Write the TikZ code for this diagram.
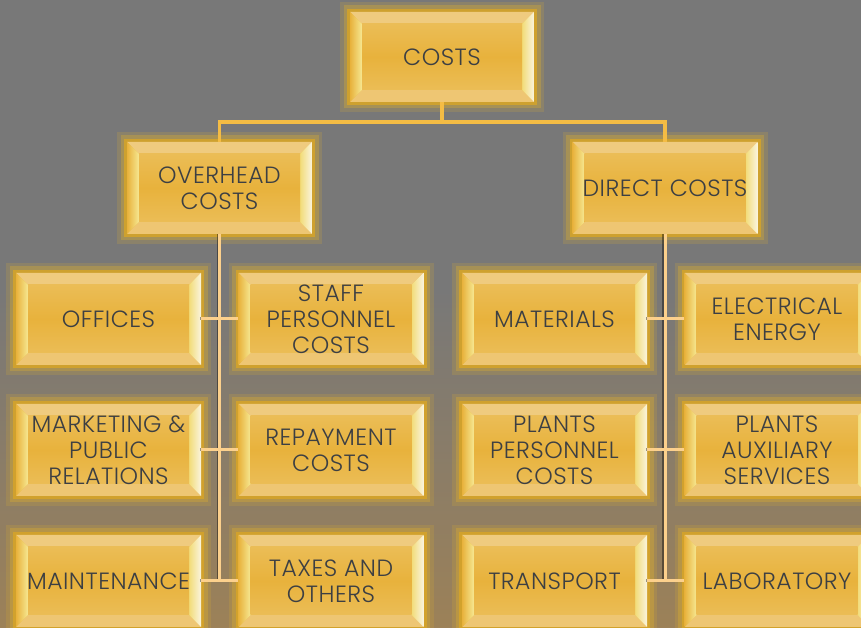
\documentclass[tikz,border=0pt]{standalone}
\usepackage{fontspec}
\newfontfamily\boxfont{Poppins Light}[LetterSpace=2]
\usetikzlibrary{calc}
\definecolor{bggray}{HTML}{787878}
\definecolor{bgmid}{HTML}{A08254}
\definecolor{bgbot}{HTML}{C58A36}
\definecolor{glowc}{HTML}{E2B22C}
\definecolor{glowin}{HTML}{D9A526}
\definecolor{facemid}{HTML}{E8B23C}
\definecolor{faceedge}{HTML}{EBBD56}
\definecolor{bandtop}{HTML}{EFCB7F}
\definecolor{bandbot}{HTML}{EEC673}
\definecolor{bevleft}{HTML}{F6E892}
\definecolor{bevright}{HTML}{FAF4DE}
\definecolor{bevrightin}{HTML}{F2DC78}
\definecolor{textgray}{HTML}{3C3F43}
\definecolor{topline}{HTML}{F4BC44}
\definecolor{subline}{HTML}{FCD08C}
\pgfdeclareverticalshading{bgshade}{100bp}{color(0bp)=(bgbot); color(22bp)=(bgmid); color(52bp)=(bggray); color(100bp)=(bggray)}
\tikzset{
  box/.style={rectangle, minimum width=185pt, minimum height=92pt, inner sep=0pt,
    align=center, text=textgray, font={\boxfont\fontsize{23.5pt}{26pt}\selectfont},
    preaction={draw=glowc, line width=20pt, opacity=0.18, rounded corners=8pt},
    preaction={draw=glowc, line width=13pt, opacity=0.32, rounded corners=5pt},
    preaction={draw=glowin, line width=6pt, opacity=0.8},
    path picture={
      \coordinate (q1) at (path picture bounding box.south west);
      \coordinate (q3) at (path picture bounding box.north east);
      \coordinate (q2) at (q1 -| q3);
      \coordinate (q4) at (q1 |- q3);
      \fill[facemid] (q1) rectangle (q3);
      \fill[bandtop] (q4) -- (q3) -- ($(q3)+(-12pt,-12pt)$) -- ($(q4)+(12pt,-12pt)$) -- cycle;
      \fill[bandbot] (q1) -- (q2) -- ($(q2)+(-12pt,12pt)$) -- ($(q1)+(12pt,12pt)$) -- cycle;
      \shade[left color=facemid, right color=bevleft] (q1) -- ($(q1)+(12pt,12pt)$) -- ($(q4)+(12pt,-12pt)$) -- (q4) -- cycle;
      \shade[left color=bevrightin, right color=bevright] (q2) -- ($(q2)+(-12pt,12pt)$) -- ($(q3)+(-12pt,-12pt)$) -- (q3) -- cycle;
      \shade[top color=faceedge, bottom color=faceedge, middle color=facemid] ($(q1)+(12pt,12pt)$) rectangle ($(q3)+(-12pt,-12pt)$);
    }},
  topconn/.style={draw=topline, line width=3.2pt},
  subconn/.style={draw=subline, line width=3pt,
    preaction={draw=black, opacity=0.4, line width=3pt, transform canvas={xshift=-1.3pt}}},
}
\begin{document}
\begin{tikzpicture}[x=1pt,y=1pt]
\useasboundingbox (0,0) rectangle (861,628);
\clip (0,0) rectangle (861,628);
\shade[shading=bgshade] (0,0) rectangle (861,628);

\node[box, minimum width=184pt, minimum height=90pt] (costs) at (442,571) {COSTS};
\node[box] (overhead) at (219.5,440) {OVERHEAD\\COSTS};
\node[box] (direct) at (665,440) {DIRECT COSTS};

\node[box] (offices) at (108.5,309) {OFFICES};
\node[box] (staff) at (331,309) {STAFF\\PERSONNEL\\COSTS};
\node[box] (marketing) at (108.5,178) {MARKETING \&\\PUBLIC\\RELATIONS};
\node[box] (repayment) at (331,178) {REPAYMENT\\COSTS};
\node[box] (maintenance) at (108.5,47) {MAINTENANCE};
\node[box] (taxes) at (331,47) {TAXES AND\\OTHERS};

\node[box] (materials) at (554.5,309) {MATERIALS};
\node[box] (electrical) at (777,309) {ELECTRICAL\\ENERGY};
\node[box] (plantspers) at (554.5,178) {PLANTS\\PERSONNEL\\COSTS};
\node[box] (plantsaux) at (777,178) {PLANTS\\AUXILIARY\\SERVICES};
\node[box] (transport) at (554.5,47) {TRANSPORT};
\node[box] (laboratory) at (777,47) {LABORATORY};

\coordinate (bar) at (442,506);
\coordinate (lend) at (overhead.south |- maintenance.east);
\coordinate (rend) at (direct.south |- transport.east);

\draw[topconn] (costs.south) -- (bar);
\draw[topconn] (overhead.north) |- (bar) -| (direct.north);

\draw[subconn] (overhead.south) -- (lend);
\draw[subconn] (direct.south) -- (rend);
\draw[subconn] (offices.east) -- (staff.west);
\draw[subconn] (marketing.east) -- (repayment.west);
\draw[subconn] (maintenance.east) -- (taxes.west);
\draw[subconn] (materials.east) -- (electrical.west);
\draw[subconn] (plantspers.east) -- (plantsaux.west);
\draw[subconn] (transport.east) -- (laboratory.west);
\end{tikzpicture}
\end{document}
